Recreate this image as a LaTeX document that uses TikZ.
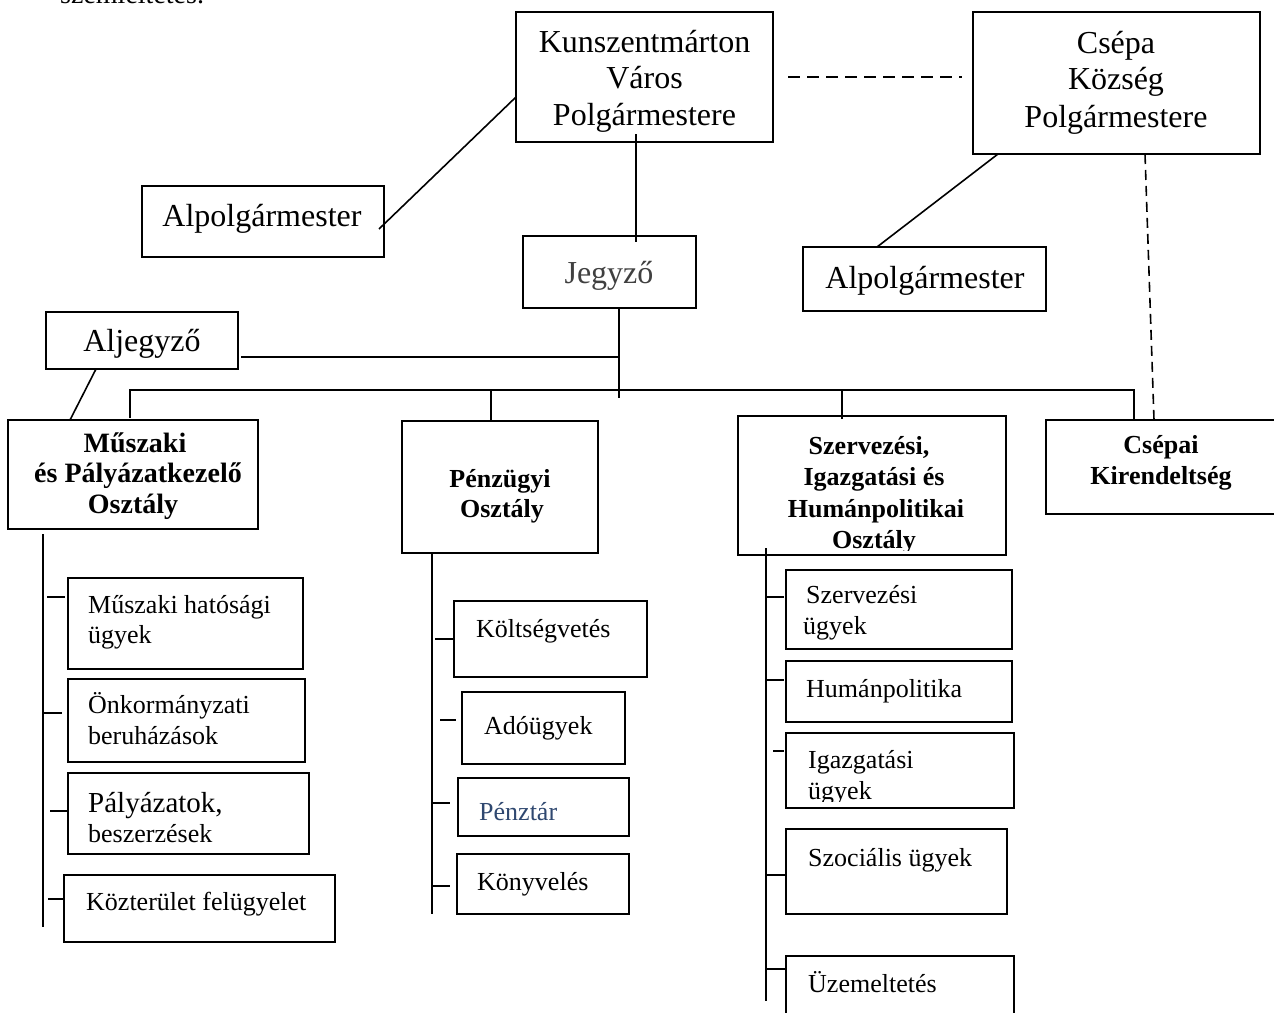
\documentclass[tikz,border=0pt]{standalone}
\usepackage{fontspec}
\setmainfont{Liberation Serif}
\usetikzlibrary{fit}
\definecolor{penzcol}{RGB}{47,72,112}
\definecolor{jegycol}{RGB}{64,64,64}
\tikzset{
  box/.style={draw, line width=1.3pt, inner sep=0pt, outer sep=0pt},
  conn/.style={line width=2.2pt},
  slim/.style={line width=1.6pt},
  big/.style={font=\fontsize{32}{36}\selectfont, inner sep=0pt, anchor=base},
  hdr/.style={font=\bfseries\fontsize{26}{30}\selectfont, inner sep=0pt, anchor=base},
  hdrl/.style={font=\bfseries\fontsize{28}{32}\selectfont, inner sep=0pt, anchor=base},
  sub/.style={font=\fontsize{26}{30}\selectfont, inner sep=0pt, anchor=base west},
}
\begin{document}
\begin{tikzpicture}[x=1pt,y=-1pt]
\useasboundingbox (0,0) rectangle (1274,1012);
\clip (0,0) rectangle (1274,1012);
\fill[white] (0,0) rectangle (1274,1012);

% clipped text at the top
\node[font=\fontsize{28}{32}\selectfont, anchor=base west, inner sep=0pt] (topnote) at (60,3) {szemléltetés.};

% ---------- top level boxes ----------
\node[box, fit={(516,12) (773,142)}] (kun) {};
\node[big] (kun1) at (644.5,52) {Kunszentmárton};
\node[big] (kun2) at (644.5,88.5) {Város};
\node[big] (kun3) at (644.5,125) {Polgármestere};

\node[box, fit={(973,12) (1260,154)}] (csepa) {};
\node[big] (cs1) at (1116,53) {Csépa};
\node[big] (cs2) at (1116,89.5) {Község};
\node[big] (cs3) at (1116,127) {Polgármestere};

\node[box, fit={(142,186) (384,257)}] (alp1) {};
\node[big] (alp1t) at (262,226) {Alpolgármester};

\node[box, fit={(523,236) (696,308)}] (jeg) {};
\node[big, text=jegycol] (jegt) at (609,283) {Jegyző};

\node[box, fit={(803,247) (1046,311)}] (alp2) {};
\node[big] (alp2t) at (925,288) {Alpolgármester};

\node[box, fit={(46,312) (238,369)}] (alj) {};
\node[big] (aljt) at (142,351) {Aljegyző};

% ---------- department boxes ----------
\node[box, fit={(8,420) (258,529)}] (musz) {};
\node[hdrl] (musz1) at (135,452) {Műszaki};
\node[hdrl] (musz2) at (138,482) {és Pályázatkezelő};
\node[hdrl] (musz3) at (133,513) {Osztály};

\node[box, fit={(402,421) (598,553)}] (penz) {};
\node[hdr] (penz1) at (500,487) {Pénzügyi};
\node[hdr] (penz2) at (502,517) {Osztály};

\node[box, fit={(738,416) (1006,555)}] (szerv) {};
\begin{scope}
\clip (738,416) rectangle (1006,550.5);
\node[hdr] (szerv1) at (869,454) {Szervezési,};
\node[hdr] (szerv2) at (874,485) {Igazgatási és};
\node[hdr] (szerv3) at (876,517) {Humánpolitikai};
\node[hdr] (szerv4) at (874,548) {Osztály};
\end{scope}

\node[box, fit={(1046,420) (1290,514)}] (csepai) {};
\node[hdr] (csepai1) at (1161,453) {Csépai};
\node[hdr] (csepai2) at (1161,484) {Kirendeltség};

% ---------- connectors, upper part ----------
\draw[conn] ([xshift=-8.5pt,yshift=8pt]kun.south) -- ([xshift=26.5pt,yshift=-6pt]jeg.north);
\draw[slim] ([yshift=-20pt]kun.west) -- ([xshift=-5pt,yshift=-7.5pt]alp1.east);
\draw[slim] ([xshift=25pt]csepa.south west) -- ([xshift=74pt]alp2.north west);
\draw[slim, dash pattern=on 12pt off 7pt] ([xshift=15pt]kun.east) -- ([xshift=-11pt,yshift=6pt]csepa.west);
\draw[slim, dash pattern=on 10pt off 6pt] ([xshift=-115pt]csepa.south east) -- ([xshift=108pt]csepai.north west);
\draw[conn] ([xshift=9.5pt]jeg.south) -- ++(0,90);
\draw[conn] ([xshift=3pt,yshift=-16.5pt]alj.east) -- ++(378,0);
\draw[slim] ([xshift=50pt]alj.south west) -- ([xshift=62pt]musz.north west);

\coordinate (busL) at (130,390);
\coordinate (busR) at (1134,390);
\draw[conn] ([yshift=-28pt]busL) -- (busL) -- (busR) -- (busR |- csepai.north);
\draw[conn] ([xshift=-9pt]penz.north) -- ++(0,-31);
\draw[conn] ([xshift=-30pt,yshift=-3pt]szerv.north) -- ++(0,-29);

% ---------- Műszaki sub-units ----------
\draw[conn] ([xshift=35pt,yshift=-5pt]musz.south west) -- ++(0,393);
\node[box, fit={(68,578) (303,669)}] (m1) {};
\node[sub] (m1a) at (88,613) {Műszaki hatósági};
\node[sub] (m1b) at (88,643) {ügyek};
\node[box, fit={(68,679) (305,762)}] (m2) {};
\node[sub] (m2a) at (88,713) {Önkormányzati};
\node[sub] (m2b) at (88,744) {beruházások};
\node[box, fit={(68,773) (309,854)}] (m3) {};
\node[sub, font=\fontsize{29}{33}\selectfont] (m3a) at (88,812) {Pályázatok,};
\node[sub] (m3b) at (88,842) {beszerzések};
\node[box, fit={(64,875) (335,942)}] (m4) {};
\node[sub] (m4a) at (86,910) {Közterület felügyelet};
\draw[conn] (47,597) -- (65,597);
\draw[conn] (43,713) -- (62,713);
\draw[conn] (50,811) -- (67,811);
\draw[conn] (48,899) -- (64,899);

% ---------- Pénzügyi sub-units ----------
\draw[conn] ([xshift=30pt]penz.south west) -- ++(0,361);
\node[box, fit={(454,601) (647,677)}] (p1) {};
\node[sub] (p1a) at (476,637) {Költségvetés};
\node[box, fit={(462,692) (625,764)}] (p2) {};
\node[sub] (p2a) at (484,734) {Adóügyek};
\node[box, fit={(458,778) (629,836)}] (p3) {};
\node[sub, text=penzcol] (p3a) at (479,820) {Pénztár};
\node[box, fit={(457,854) (629,914)}] (p4) {};
\node[sub] (p4a) at (477,890) {Könyvelés};
\draw[conn] (435,639) -- (454,639);
\draw[conn] (440,720) -- (456,720);
\draw[conn] (432,803) -- (450,803);
\draw[conn] (432,886) -- (450,886);

% ---------- Szervezési sub-units ----------
\draw[conn] ([xshift=28pt,yshift=7pt]szerv.south west) -- ++(0,453);
\node[box, fit={(786,570) (1012,649)}] (s1) {};
\node[sub] (s1a) at (806,603) {Szervezési};
\node[sub] (s1b) at (803,634) {ügyek};
\node[box, fit={(786,661) (1012,722)}] (s2) {};
\node[sub] (s2a) at (806,697) {Humánpolitika};
\node[box, fit={(786,733) (1014,808)}] (s3) {};
\node[sub] (s3a) at (808,768) {Igazgatási};
\begin{scope}
\clip (786,733) rectangle (1014,801.5);
\node[sub] (s3b) at (808,799) {ügyek};
\end{scope}
\node[box, fit={(786,829) (1007,914)}] (s4) {};
\node[sub] (s4a) at (808,866) {Szociális ügyek};
\node[box, fit={(786,956) (1014,1030)}] (s5) {};
\node[sub] (s5a) at (808,992) {Üzemeltetés};
\draw[conn] (766,597) -- (784,597);
\draw[conn] (766,680) -- (784,680);
\draw[conn] (773,751) -- (784,751);
\draw[conn] (766,875) -- (786,875);
\draw[conn] (766,969) -- (786,969);
\end{tikzpicture}
\end{document}
